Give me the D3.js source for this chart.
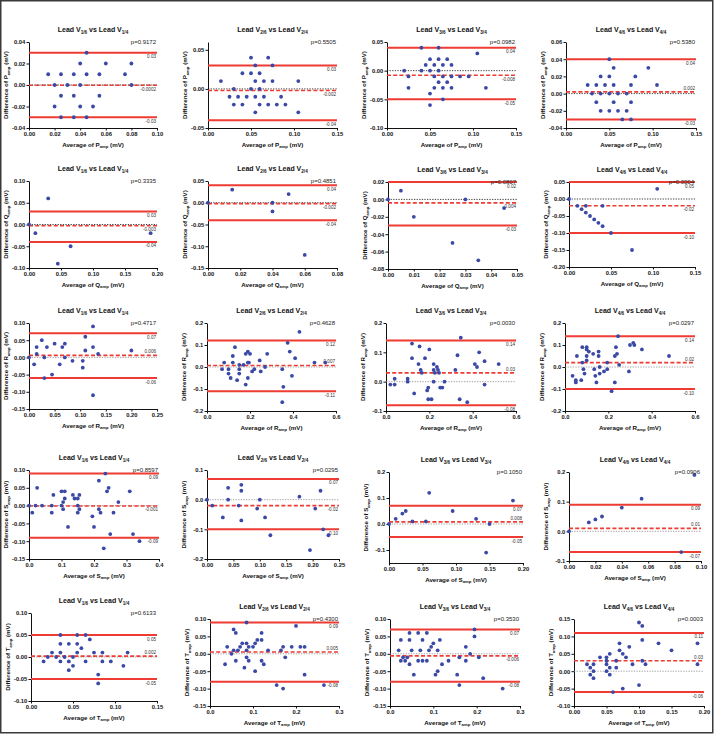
<!DOCTYPE html>
<html>
<head>
<meta charset="utf-8">
<script src="https://cdn.jsdelivr.net/npm/d3@7"></script>
<style>
  body { margin: 0; background: #fff; }
  svg { display: block; font-family: "Liberation Sans", Arial, sans-serif; }
</style>
</head>
<body>
<div id="chart"></div>
<script>
// rows = wave, columns = lead
const waves = ['P', 'Q', 'R', 'S', 'T'];
const leads = ['1', '2', '3', '4'];

const pValues = [
  '0.9172', '0.5505', '0.0982', '0.5380',
  '0.3335', '0.4851', '0.0807', '0.0004',
  '0.4717', '0.4628', '0.0030', '0.0297',
  '0.8597', '0.0295', '0.1050', '0.0906',
  '0.6133', '0.4300', '0.3530', '0.0003'
];

// limits of agreement and bias, as printed next to the lines
const upperLoA = ['0.03', '0.03', '0.04', '0.04', '0.03', '0.04', '0.02', '0.05', '0.07', '0.12', '0.14', '0.14',
  '0.09', '0.07', '0.07', '0.09', '0.05', '0.09', '0.07', '0.11'];
const biasLoA = ['-0.0002', '-0.002', '-0.008', '0.002', '-0.003', '-0.002', '-0.004', '-0.02', '0.006', '0.007', '0.03', '0.02',
  '-0.001', '-0.02', '0.008', '0.01', '0.002', '0.005', '-0.006', '0.03'];
const lowerLoA = ['-0.03', '-0.04', '-0.05', '-0.03', '-0.04', '-0.04', '-0.03', '-0.10', '-0.06', '-0.11', '-0.08', '-0.10',
  '-0.09', '-0.10', '-0.05', '-0.07', '-0.05', '-0.08', '-0.08', '-0.06'];

// axis extents and tick steps
const xMax = [0.10, 0.15, 0.15, 0.15, 0.20, 0.08, 0.05, 0.15, 0.25, 0.6, 0.6, 0.6, 0.4, 0.25, 0.20, 0.10, 0.15, 0.3, 0.3, 0.20];
const xStep = [0.02, 0.05, 0.05, 0.05, 0.05, 0.02, 0.01, 0.05, 0.05, 0.2, 0.2, 0.2, 0.1, 0.05, 0.05, 0.02, 0.05, 0.1, 0.1, 0.05];
const yMin = [-0.04, -0.05, -0.10, -0.04, -0.10, -0.15, -0.08, -0.20, -0.15, -0.2, -0.1, -0.2, -0.15, -0.2, -0.15, -0.1, -0.10, -0.15, -0.15, -0.10];
const yMax = [0.04, 0.06, 0.05, 0.06, 0.10, 0.05, 0.02, 0.05, 0.10, 0.2, 0.2, 0.2, 0.10, 0.1, 0.2, 0.2, 0.10, 0.10, 0.10, 0.15];
const yStep = [0.02, 0.05, 0.05, 0.02, 0.05, 0.05, 0.02, 0.05, 0.05, 0.1, 0.1, 0.1, 0.05, 0.1, 0.1, 0.1, 0.05, 0.05, 0.05, 0.05];

// [average, difference] per panel
const pPoints = [
  [[0.015, 0.01], [0.02, 0], [0.02, -0.02], [0.025, 0.01], [0.025, -0.01], [0.025, -0.03], [0.03, 0], [0.035, 0.01],
   [0.035, -0.01], [0.035, -0.03], [0.04, 0.02], [0.04, 0], [0.04, -0.02], [0.045, 0.03], [0.045, 0.01], [0.045, -0.03],
   [0.05, -0.02], [0.055, 0.01], [0.055, -0.01], [0.06, 0.02], [0.075, 0.01], [0.08, 0.02], [0.08, 0]],
  [[0.05, 0.04], [0.07, 0.04], [0.055, 0.03], [0.075, 0.03], [0.04, 0.02], [0.05, 0.02], [0.06, 0.02], [0.015, 0.01],
   [0.055, 0.01], [0.065, 0.01], [0.075, 0.01], [0.105, 0.01], [0.03, 0], [0.05, 0], [0.06, 0], [0.025, -0.01],
   [0.035, -0.01], [0.045, -0.01], [0.055, -0.01], [0.065, -0.01], [0.085, -0.01], [0.03, -0.02], [0.04, -0.02],
   [0.06, -0.02], [0.07, -0.02], [0.08, -0.02], [0.09, -0.02], [0.055, -0.03], [0.105, -0.03]],
  [[0.04, 0.04], [0.06, 0.04], [0.105, 0.03], [0.05, 0.02], [0.06, 0.02], [0.07, 0.02], [0.045, 0.01], [0.055, 0.01],
   [0.065, 0.01], [0.075, 0.01], [0.02, 0], [0.04, 0], [0.05, 0], [0.06, 0], [0.025, -0.01], [0.055, -0.01],
   [0.065, -0.01], [0.075, -0.01], [0.085, -0.01], [0.095, -0.01], [0.06, -0.02], [0.07, -0.02], [0.025, -0.03],
   [0.055, -0.03], [0.065, -0.03], [0.075, -0.03], [0.115, -0.03], [0.05, -0.04], [0.065, -0.05], [0.05, -0.06]],
  [[0.05, 0.04], [0.055, 0.03], [0.095, 0.03], [0.04, 0.02], [0.05, 0.02], [0.08, 0.02], [0.025, 0.01], [0.035, 0.01],
   [0.045, 0.01], [0.055, 0.01], [0.075, 0.01], [0.105, 0.01], [0.03, 0], [0.04, 0], [0.05, 0], [0.06, 0], [0.07, 0],
   [0.035, -0.01], [0.055, -0.01], [0.075, -0.01], [0.04, -0.02], [0.05, -0.02], [0.06, -0.02], [0.07, -0.02],
   [0.065, -0.03], [0.075, -0.03]]
];

const qPoints = [
  [[0, 0], [0.01, -0.02], [0.03, 0.06], [0.045, -0.09], [0.065, -0.05], [0.19, -0.02]],
  [[0, 0], [0.015, 0.03], [0.04, 0], [0.04, -0.02], [0.05, 0.02], [0.06, -0.12]],
  [[0, 0], [0.005, 0.01], [0.01, -0.02], [0.025, -0.05], [0.03, 0], [0.035, -0.07], [0.045, -0.01]],
  [[0, 0], [0.01, -0.02], [0.015, -0.03], [0.02, -0.02], [0.02, -0.04], [0.025, -0.05], [0.03, -0.06], [0.035, -0.07],
   [0.04, -0.08], [0.04, -0.02], [0.05, -0.10], [0.075, -0.15], [0.105, 0.03]]
];

const rPoints = [
  [[0, 0], [0.01, -0.02], [0.015, 0.03], [0.015, 0.01], [0.025, 0.05], [0.03, 0], [0.03, -0.06], [0.035, 0.03],
   [0.045, -0.05], [0.05, 0.04], [0.06, -0.02], [0.065, 0.03], [0.07, 0.04], [0.07, 0], [0.085, -0.01], [0.105, -0.01],
   [0.105, -0.03], [0.11, 0.06], [0.11, 0.02], [0.125, 0.09], [0.125, 0.03], [0.125, -0.11], [0.135, 0.01], [0.2, 0.02]],
  [[0.07, -0.01], [0.08, 0.02], [0.10, -0.01], [0.10, -0.03], [0.11, -0.05], [0.12, 0.05], [0.13, 0.09], [0.12, 0.02],
   [0.14, -0.06], [0.15, 0.01], [0.15, -0.01], [0.15, -0.03], [0.17, 0.01], [0.18, -0.08], [0.18, 0.06], [0.19, 0.02],
   [0.19, 0.07], [0.195, 0.02], [0.19, -0.05], [0.20, 0.06], [0.21, -0.02], [0.22, -0.01], [0.245, 0.03], [0.25, -0.02],
   [0.27, 0], [0.28, 0.06], [0.35, -0.01], [0.355, -0.09], [0.35, -0.16], [0.375, 0.11], [0.385, 0.07], [0.395, -0.04],
   [0.41, 0.04], [0.43, 0.16], [0.50, 0.02], [0.55, 0.02]],
  [[0.02, -0.01], [0.04, 0.01], [0.04, -0.01], [0.10, 0], [0.10, 0.01], [0.12, 0.08], [0.12, 0.13], [0.13, -0.04],
   [0.15, 0.06], [0.155, 0.12], [0.16, 0.04], [0.165, 0.03], [0.18, 0.08], [0.19, -0.03], [0.195, -0.02], [0.20, 0.11],
   [0.195, -0.06], [0.21, -0.06], [0.22, 0.06], [0.22, 0.04], [0.22, 0], [0.225, 0.03], [0.235, 0.05], [0.24, 0.04],
   [0.245, 0.03], [0.25, -0.02], [0.26, -0.02], [0.27, 0], [0.32, 0.04], [0.33, 0.09], [0.34, -0.06], [0.345, 0.15],
   [0.375, -0.07], [0.41, 0.06], [0.42, 0.05], [0.43, 0.10], [0.455, 0.07], [0.455, -0.01], [0.52, 0.06]],
  [[0.035, -0.04], [0.05, -0.06], [0.05, -0.07], [0.055, 0.05], [0.08, 0.09], [0.075, -0.06], [0.08, 0.02],
   [0.085, -0.01], [0.09, -0.03], [0.10, 0.09], [0.10, 0.08], [0.10, 0.05], [0.10, 0.03], [0.11, 0.07], [0.13, 0.06],
   [0.135, -0.01], [0.14, -0.04], [0.145, -0.07], [0.155, 0.07], [0.155, 0.05], [0.16, -0.03], [0.16, 0], [0.18, -0.02],
   [0.195, -0.01], [0.195, 0.02], [0.215, -0.11], [0.23, -0.07], [0.23, 0.05], [0.235, 0.09], [0.24, 0.06],
   [0.245, 0.14], [0.25, 0.01], [0.295, -0.02], [0.30, 0.10], [0.315, 0.11], [0.32, 0.10], [0.355, 0.08], [0.48, 0.05]]
];

const sPoints = [
  [[0, 0], [0.01, -0.02], [0.02, 0], [0.025, 0.05], [0.04, 0], [0.07, -0.02], [0.07, 0], [0.075, 0.03], [0.10, 0.04],
   [0.10, 0], [0.105, 0.01], [0.105, -0.01], [0.11, 0.04], [0.11, 0.02], [0.12, -0.06], [0.135, 0.03], [0.14, 0.02],
   [0.15, 0.02], [0.15, 0], [0.15, -0.02], [0.155, -0.01], [0.155, 0.03], [0.195, -0.03], [0.20, -0.06], [0.215, 0.07],
   [0.215, -0.01], [0.22, -0.02], [0.235, 0.09], [0.24, 0.04], [0.245, 0.05], [0.25, -0.08], [0.23, -0.12],
   [0.26, -0.02], [0.275, 0.01], [0.31, 0.04], [0.32, -0.08], [0.34, -0.10]],
  [[0, 0], [0.01, -0.02], [0.03, -0.06], [0.04, 0.04], [0.04, 0], [0.06, -0.02], [0.065, 0.05], [0.065, 0.03],
   [0.065, -0.07], [0.095, -0.03], [0.10, 0], [0.11, -0.06], [0.12, -0.12], [0.175, 0.01], [0.195, -0.17],
   [0.215, 0.03], [0.205, -0.03], [0.22, -0.10], [0.23, -0.12]],
  [[0, 0], [0.01, 0.02], [0.02, 0.04], [0.025, 0.05], [0.035, 0.01], [0.055, 0.01], [0.06, 0.12], [0.095, 0.05],
   [0.13, 0.02], [0.145, -0.11], [0.15, 0], [0.185, 0.09]],
  [[0, 0], [0.015, 0.03], [0.02, 0.04], [0.025, 0.05], [0.04, 0.08], [0.055, 0.11], [0.085, -0.07], [0.095, 0.19]]
];

const tPoints = [
  [[0.015, -0.01], [0.02, 0], [0.025, 0.01], [0.03, 0], [0.035, 0.05], [0.035, 0.03], [0.035, 0.01], [0.035, -0.01],
   [0.04, 0], [0.045, 0.03], [0.045, -0.01], [0.045, -0.03], [0.05, 0], [0.05, -0.02], [0.055, 0.05], [0.055, 0.03],
   [0.055, 0.01], [0.06, 0.02], [0.065, 0.05], [0.065, -0.01], [0.07, 0.04], [0.075, 0.01], [0.08, -0.04],
   [0.08, -0.06], [0.085, 0.01], [0.085, -0.01], [0.095, -0.01], [0.11, -0.02], [0.115, 0.01]],
  [[0.035, -0.03], [0.04, 0.02], [0.05, 0], [0.055, 0.01], [0.055, 0.07], [0.06, 0.06], [0.06, -0.02], [0.065, 0.01],
   [0.07, 0.02], [0.075, 0.03], [0.08, -0.04], [0.085, 0.09], [0.085, 0.03], [0.085, 0.01], [0.085, -0.01],
   [0.09, 0.02], [0.09, -0.02], [0.10, 0.02], [0.105, -0.05], [0.105, 0.03], [0.11, 0.04], [0.12, -0.02], [0.12, 0.04],
   [0.12, 0.06], [0.125, -0.03], [0.135, 0.01], [0.155, -0.09], [0.165, 0.01], [0.17, 0.02], [0.17, -0.10],
   [0.175, -0.01], [0.19, 0.02], [0.20, 0.08], [0.21, 0.02], [0.22, 0.02], [0.22, -0.06], [0.265, -0.09]],
  [[0.02, 0.01], [0.025, 0.04], [0.025, -0.02], [0.03, -0.01], [0.035, -0.02], [0.04, -0.01], [0.045, -0.03],
   [0.045, 0.06], [0.045, 0.04], [0.05, 0.01], [0.055, -0.06], [0.065, -0.02], [0.065, 0.06], [0.07, 0.01],
   [0.075, 0.04], [0.075, -0.02], [0.085, 0.06], [0.085, -0.02], [0.09, 0.01], [0.095, 0.02], [0.1, 0.03],
   [0.105, -0.06], [0.11, 0.01], [0.11, -0.05], [0.115, 0.04], [0.12, -0.03], [0.135, -0.02], [0.155, -0.06],
   [0.16, -0.09], [0.16, -0.01], [0.175, 0.02], [0.175, -0.02], [0.185, 0], [0.195, 0.07], [0.195, 0.05],
   [0.205, -0.01], [0.215, -0.07], [0.26, -0.10]],
  [[0.02, 0.02], [0.025, 0.01], [0.025, -0.01], [0.03, 0.02], [0.03, 0], [0.03, -0.02], [0.04, 0.04], [0.05, 0.04],
   [0.05, 0.02], [0.05, 0], [0.05, 0.03], [0.055, 0.05], [0.055, -0.01], [0.055, 0.01], [0.06, -0.06], [0.065, 0.03],
   [0.065, 0.01], [0.07, 0.08], [0.07, 0.06], [0.075, 0.05], [0.075, -0.05], [0.08, 0.04], [0.085, 0.07], [0.09, 0.02],
   [0.10, -0.04], [0.10, 0.14], [0.105, 0.13], [0.105, 0.09], [0.105, 0.03], [0.11, 0.02], [0.13, 0.08], [0.15, 0.06],
   [0.19, 0.08], [0.19, 0.02]]
];

const pointsByWave = [pPoints, qPoints, rPoints, sPoints, tPoints];

// plot area of each panel: left, top, right, bottom (px)
const panelBoxes = [
  [29, 42, 157, 128], [208, 42, 337, 128], [387, 42, 516, 128], [566, 42, 696, 128],
  [29, 181, 157, 268], [208, 181, 337, 268], [388, 182, 517, 269], [569, 182, 695, 267],
  [29, 323, 157, 409], [207, 323, 336, 411], [386, 323, 516, 411], [565, 323, 695, 411],
  [29, 470, 159, 559], [207, 470, 339, 559], [389, 472, 523, 563], [569, 472, 701, 561],
  [31, 613, 157, 701], [210, 619, 339, 706], [390, 619, 520, 706], [574, 619, 704, 706]
];

const width = 715, height = 735;
const pointColor = '#3a49a6';
const loaColor = '#ee3b33';

const svg = d3.select('#chart')
  .append('svg')
  .attr('width', width)
  .attr('height', height);

svg.append('rect')
  .attr('width', width)
  .attr('height', height)
  .attr('fill', '#fff');

// multiples of step inside [lo, hi]
function stepTicks(lo, hi, step) {
  const a = Math.ceil(lo / step - 1e-6);
  const z = Math.floor(hi / step + 1e-6);
  return d3.range(a, z + 1).map(k => +(k * step).toFixed(6));
}

function stepFormat(step) {
  const oneDecimal = Math.abs(step * 10 - Math.round(step * 10)) < 1e-9;
  const dec = oneDecimal ? 1 : 2;
  return v => (Math.abs(v) < 1e-9 ? 0 : v).toFixed(dec);
}

function styleAxis(g) {
  g.attr('font-family', null).attr('font-size', null);
  g.select('.domain').attr('stroke', '#111').attr('stroke-width', 1);
  g.selectAll('.tick line').attr('stroke', '#111').attr('stroke-width', 1);
  g.selectAll('.tick text')
    .attr('fill', '#111')
    .style('font-size', '5.8px')
    .style('font-weight', 'bold');
}

waves.forEach((wave, r) => {
  leads.forEach((lead, c) => {
    const i = r * 4 + c;
    const [left, top, right, bottom] = panelBoxes[i];
    const data = pointsByWave[r][c];

    const x = d3.scaleLinear().domain([0, xMax[i]]).range([left, right]);
    const y = d3.scaleLinear().domain([yMin[i], yMax[i]]).range([bottom, top]);

    const panel = svg.append('g').attr('class', 'panel');

    // axes
    panel.append('g')
      .attr('transform', `translate(0,${bottom})`)
      .call(d3.axisBottom(x)
        .tickValues(stepTicks(0, xMax[i], xStep[i]))
        .tickFormat(stepFormat(xStep[i]))
        .tickSize(2.5)
        .tickPadding(1.5)
        .tickSizeOuter(0))
      .call(styleAxis);

    panel.append('g')
      .attr('transform', `translate(${left},0)`)
      .call(d3.axisLeft(y)
        .tickValues(stepTicks(yMin[i], yMax[i], yStep[i]))
        .tickFormat(stepFormat(yStep[i]))
        .tickSize(2.5)
        .tickPadding(1.2)
        .tickSizeOuter(0))
      .call(styleAxis);

    // zero line
    panel.append('line')
      .attr('x1', x(0)).attr('x2', x(xMax[i]))
      .attr('y1', y(0)).attr('y2', y(0))
      .attr('stroke', r < 2 ? '#111' : '#8a8a8a')
      .attr('stroke-width', 0.8)
      .attr('stroke-dasharray', '1.3,1.3');

    // bias (dashed) and limits of agreement (solid)
    const bias = +biasLoA[i];
    panel.append('line')
      .attr('x1', x(0)).attr('x2', x(xMax[i]))
      .attr('y1', y(bias)).attr('y2', y(bias))
      .attr('stroke', loaColor)
      .attr('stroke-width', 1.6)
      .attr('stroke-dasharray', '4,2.2');

    [upperLoA[i], lowerLoA[i]].forEach(v => {
      panel.append('line')
        .attr('x1', x(0)).attr('x2', x(xMax[i]))
        .attr('y1', y(+v)).attr('y2', y(+v))
        .attr('stroke', loaColor)
        .attr('stroke-width', 2);
    });

    // line labels
    const lineLabels = [
      { text: upperLoA[i], yy: y(+upperLoA[i]) + 5.5 },
      { text: biasLoA[i], yy: bias > 0 ? y(bias) - 2 : y(bias) + 5.5 },
      { text: lowerLoA[i], yy: y(+lowerLoA[i]) + 5.5 }
    ];
    panel.selectAll('.loa-label')
      .data(lineLabels)
      .join('text')
      .attr('class', 'loa-label')
      .attr('x', right - 1)
      .attr('y', d => d.yy)
      .attr('text-anchor', 'end')
      .style('font-size', '4.6px')
      .attr('fill', '#333')
      .text(d => d.text);

    // points
    panel.selectAll('.point')
      .data(data)
      .join('circle')
      .attr('class', 'point')
      .attr('cx', d => x(d[0]))
      .attr('cy', d => y(d[1]))
      .attr('r', 1.9)
      .attr('fill', pointColor);

    // p value
    panel.append('text')
      .attr('x', right - 1)
      .attr('y', top + 1.5)
      .attr('text-anchor', 'end')
      .style('font-size', '6px')
      .attr('fill', '#222')
      .text('p=' + pValues[i]);

    // title
    const title = panel.append('text')
      .attr('x', (left + right) / 2)
      .attr('y', top - 10)
      .attr('text-anchor', 'middle')
      .style('font-size', '7px')
      .style('font-weight', 'bold')
      .attr('fill', '#111');
    title.append('tspan').text('Lead V');
    title.append('tspan').attr('dy', 1.8).style('font-size', '4.6px').text(lead + '/6');
    title.append('tspan').attr('dy', -1.8).text(' vs Lead V');
    title.append('tspan').attr('dy', 1.8).style('font-size', '4.6px').text(lead + '/4');

    // x axis title
    const xt = panel.append('text')
      .attr('x', (left + right) / 2)
      .attr('y', bottom + 18.5)
      .attr('text-anchor', 'middle')
      .style('font-size', '6.2px')
      .style('font-weight', 'bold')
      .attr('fill', '#111');
    xt.append('tspan').text('Average of ' + wave);
    xt.append('tspan').attr('dy', 1.5).style('font-size', '4.2px').text('amp');
    xt.append('tspan').attr('dy', -1.5).text(' (mV)');

    // y axis title
    const yt = panel.append('text')
      .attr('transform', `translate(${left - 21},${(top + bottom) / 2}) rotate(-90)`)
      .attr('text-anchor', 'middle')
      .style('font-size', '6.2px')
      .style('font-weight', 'bold')
      .attr('fill', '#111');
    yt.append('tspan').text('Difference of ' + wave);
    yt.append('tspan').attr('dy', 1.5).style('font-size', '4.2px').text('amp');
    yt.append('tspan').attr('dy', -1.5).text(' (mV)');
  });
});

// outer frame
svg.append('rect')
  .attr('x', 0.75)
  .attr('y', 0.75)
  .attr('width', 712)
  .attr('height', 732)
  .attr('fill', 'none')
  .attr('stroke', '#3a3a3a')
  .attr('stroke-width', 1.5);
</script>
</body>
</html>
